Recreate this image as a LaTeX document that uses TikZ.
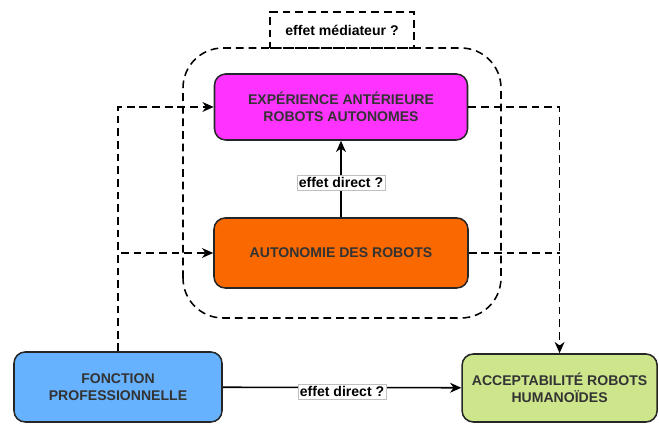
\documentclass[tikz,border=0pt]{standalone}
\usepackage{fontspec}
\setmainfont{Liberation Sans}
\usetikzlibrary{arrows.meta}
\definecolor{magentabox}{RGB}{255,51,255}
\definecolor{orangebox}{RGB}{250,104,0}
\definecolor{bluebox}{RGB}{102,178,255}
\definecolor{greenbox}{RGB}{205,230,140}
\tikzset{
  bloc/.style={
    draw = black!85,
    line width = 1.1pt,
    rounded corners = 0.28cm,
    align = center,
    inner sep = 0pt,
    font = \fontsize{10}{12.5}\selectfont\bfseries,
    text = black!80
  },
  lien/.style={
    dashed,
    line width = 1.1pt,
    dash pattern = on 5.5pt off 3.5pt,
    -{Stealth[length=8pt,width=7pt,inset=2.5pt]}
  },
  effet/.style={
    fill = white,
    draw = black!25,
    line width = 0.3pt,
    inner sep = 1.5pt,
    font = \fontsize{10}{12}\selectfont\bfseries
  }
}
\begin{document}
\begin{tikzpicture}
    \useasboundingbox (0,0) rectangle (16.475,10.6);
    % groupe mediateur
    \draw[dashed, line width=1.1pt, dash pattern=on 5.5pt off 3.5pt, rounded corners=1cm]
        (4.575,2.65) rectangle (12.525,9.4);
    \node[draw, dashed, line width=1.1pt, dash pattern=on 5.5pt off 3.5pt, minimum width=3.6cm,
          minimum height=0.9cm, font=\fontsize{10}{12}\selectfont\bfseries] (mediateur)
        at (8.55,9.85) {effet médiateur ?};
    % blocs
    \node[bloc, fill=magentabox, minimum width=6.325cm, minimum height=1.65cm] (experience)
        at (8.525,7.925) {EXPÉRIENCE ANTÉRIEURE\\ROBOTS AUTONOMES};
    \node[bloc, fill=orangebox, minimum width=6.35cm, minimum height=1.75cm] (autonomie)
        at (8.525,4.275) {AUTONOMIE DES ROBOTS};
    \node[bloc, fill=bluebox, minimum width=5.2cm, minimum height=1.75cm] (fonction)
        at (2.95,0.925) {FONCTION\\PROFESSIONNELLE};
    \node[bloc, fill=greenbox, minimum width=4.875cm, minimum height=1.7cm] (acceptabilite)
        at (13.99,0.9) {ACCEPTABILITÉ ROBOTS\\HUMANOÏDES};
    \coordinate (jonction) at (autonomie.east -| acceptabilite.north);
    % liens
    \draw[lien] (fonction.north) |- (experience.west);
    \draw[lien] (fonction.north) |- (autonomie.west);
    \draw[lien] (experience.east) -| (acceptabilite.north);
    \draw[lien, -] (autonomie.east) -- (jonction);
    \draw[line width=1.1pt, -{Stealth[length=8pt,width=7pt,inset=2.5pt]}] (autonomie) -- (experience)
        node[effet, pos=0.45] {effet direct ?};
    \draw[line width=1.1pt, -{Stealth[length=8pt,width=7pt,inset=2.5pt]}] (fonction) -- (acceptabilite)
        node[effet, pos=0.5, yshift=-0.1cm] {effet direct ?};
\end{tikzpicture}
\end{document}
